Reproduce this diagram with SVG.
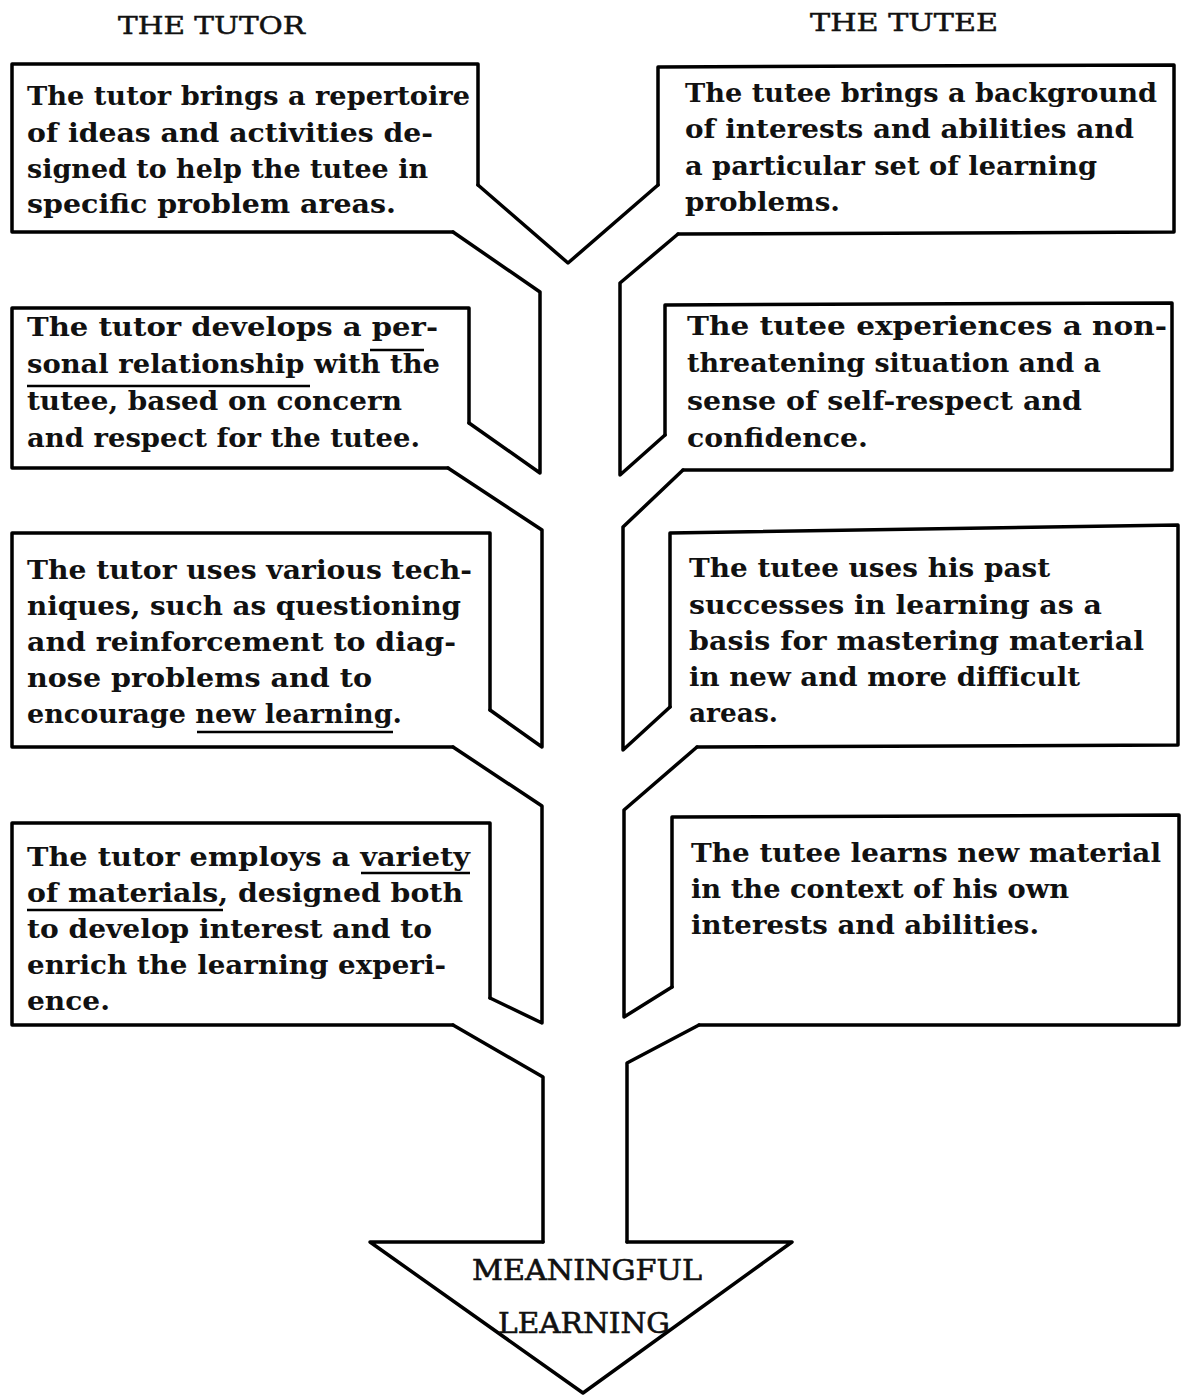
<svg xmlns="http://www.w3.org/2000/svg" width="1184" height="1396" viewBox="0 0 1184 1396">
<style>
.ol{fill:none;stroke:#000;stroke-width:3.5;stroke-linejoin:round;stroke-linecap:round}
.ul{stroke:#000;stroke-width:2.5}
.t{font-family:"DejaVu Serif","Liberation Serif",serif;font-size:25.5px;font-weight:bold;fill:#111}
.h{font-family:"DejaVu Serif","Liberation Serif",serif;font-size:25px;fill:#111;stroke:#111;stroke-width:0.5}
.m{font-family:"DejaVu Serif","Liberation Serif",serif;font-size:27px;fill:#111;stroke:#111;stroke-width:0.6}
</style>
<rect width="1184" height="1396" fill="#fff"/>
<g id="headers">
<text class="h" x="118" y="34" textLength="187" lengthAdjust="spacingAndGlyphs">THE TUTOR</text>
<text class="h" x="810" y="31" textLength="188" lengthAdjust="spacingAndGlyphs">THE TUTEE</text>
</g>
<g id="connectors">
<path class="ol" d="M478,185 L568,263 L658,185"/>
<path class="ol" d="M453,232 L540,292 V473 L469,423"/>
<path class="ol" d="M448,468 L542,530 V747 L490,710"/>
<path class="ol" d="M453,747 L542,806 V1023 L490,998"/>
<path class="ol" d="M453,1025 L543,1077 V1242"/>
<path class="ol" d="M678,234 L620,283 V475 L665,435"/>
<path class="ol" d="M683,470 L623,527 V750 L670,707"/>
<path class="ol" d="M697,747 L624,810 V1017 L672,987"/>
<path class="ol" d="M699,1025 L627,1063 V1242"/>
</g>
<g id="tutor1">
<path class="ol" d="M478,185 V64 H12 V232 H453"/>
<text class="t" x="27" y="105" textLength="443" lengthAdjust="spacingAndGlyphs">The tutor brings a repertoire</text>
<text class="t" x="27" y="142" textLength="406" lengthAdjust="spacingAndGlyphs">of ideas and activities de-</text>
<text class="t" x="27" y="178" textLength="401" lengthAdjust="spacingAndGlyphs">signed to help the tutee in</text>
<text class="t" x="27" y="213" textLength="369" lengthAdjust="spacingAndGlyphs">specific problem areas.</text>
</g>
<g id="tutor2">
<path class="ol" d="M469,423 V308 H12 V468 H448"/>
<text class="t" x="27" y="336" textLength="411" lengthAdjust="spacingAndGlyphs">The tutor develops a per-</text>
<text class="t" x="27" y="373" textLength="413" lengthAdjust="spacingAndGlyphs">sonal relationship with the</text>
<text class="t" x="27" y="410" textLength="375" lengthAdjust="spacingAndGlyphs">tutee, based on concern</text>
<text class="t" x="27" y="447" textLength="393" lengthAdjust="spacingAndGlyphs">and respect for the tutee.</text>
<line class="ul" x1="370" y1="350" x2="424" y2="350"/>
<line class="ul" x1="27" y1="386" x2="310" y2="386"/>
</g>
<g id="tutor3">
<path class="ol" d="M490,710 V533 H12 V747 H453"/>
<text class="t" x="27" y="579" textLength="445" lengthAdjust="spacingAndGlyphs">The tutor uses various tech-</text>
<text class="t" x="27" y="615" textLength="434" lengthAdjust="spacingAndGlyphs">niques, such as questioning</text>
<text class="t" x="27" y="651" textLength="429" lengthAdjust="spacingAndGlyphs">and reinforcement to diag-</text>
<text class="t" x="27" y="687" textLength="345" lengthAdjust="spacingAndGlyphs">nose problems and to</text>
<text class="t" x="27" y="723" textLength="375" lengthAdjust="spacingAndGlyphs">encourage new learning.</text>
<line class="ul" x1="197" y1="732" x2="393" y2="732"/>
</g>
<g id="tutor4">
<path class="ol" d="M490,998 V823 H12 V1025 H453"/>
<text class="t" x="27" y="866" textLength="443" lengthAdjust="spacingAndGlyphs">The tutor employs a variety</text>
<text class="t" x="27" y="902" textLength="436" lengthAdjust="spacingAndGlyphs">of materials, designed both</text>
<text class="t" x="27" y="938" textLength="405" lengthAdjust="spacingAndGlyphs">to develop interest and to</text>
<text class="t" x="27" y="974" textLength="419" lengthAdjust="spacingAndGlyphs">enrich the learning experi-</text>
<text class="t" x="27" y="1010" textLength="83" lengthAdjust="spacingAndGlyphs">ence.</text>
<line class="ul" x1="361" y1="873" x2="470" y2="873"/>
<line class="ul" x1="27" y1="910" x2="223" y2="910"/>
</g>
<g id="tutee1">
<path class="ol" d="M658,185 V67 L1174,65 V232 L678,234"/>
<text class="t" x="685" y="102" textLength="472" lengthAdjust="spacingAndGlyphs">The tutee brings a background</text>
<text class="t" x="685" y="138" textLength="449" lengthAdjust="spacingAndGlyphs">of interests and abilities and</text>
<text class="t" x="685" y="175" textLength="412" lengthAdjust="spacingAndGlyphs">a particular set of learning</text>
<text class="t" x="685" y="211" textLength="155" lengthAdjust="spacingAndGlyphs">problems.</text>
</g>
<g id="tutee2">
<path class="ol" d="M665,435 V305 L1172,303 V470 H683"/>
<text class="t" x="687" y="335" textLength="480" lengthAdjust="spacingAndGlyphs">The tutee experiences a non-</text>
<text class="t" x="687" y="372" textLength="414" lengthAdjust="spacingAndGlyphs">threatening situation and a</text>
<text class="t" x="687" y="410" textLength="395" lengthAdjust="spacingAndGlyphs">sense of self-respect and</text>
<text class="t" x="687" y="447" textLength="181" lengthAdjust="spacingAndGlyphs">confidence.</text>
</g>
<g id="tutee3">
<path class="ol" d="M670,707 V533 L1178,525 V745 L697,747"/>
<text class="t" x="689" y="577" textLength="361" lengthAdjust="spacingAndGlyphs">The tutee uses his past</text>
<text class="t" x="689" y="614" textLength="413" lengthAdjust="spacingAndGlyphs">successes in learning as a</text>
<text class="t" x="689" y="650" textLength="455" lengthAdjust="spacingAndGlyphs">basis for mastering material</text>
<text class="t" x="689" y="686" textLength="391" lengthAdjust="spacingAndGlyphs">in new and more difficult</text>
<text class="t" x="689" y="722" textLength="89" lengthAdjust="spacingAndGlyphs">areas.</text>
</g>
<g id="tutee4">
<path class="ol" d="M672,987 V817 L1179,815 V1025 H699"/>
<text class="t" x="691" y="862" textLength="470" lengthAdjust="spacingAndGlyphs">The tutee learns new material</text>
<text class="t" x="691" y="898" textLength="378" lengthAdjust="spacingAndGlyphs">in the context of his own</text>
<text class="t" x="691" y="934" textLength="348" lengthAdjust="spacingAndGlyphs">interests and abilities.</text>
</g>
<g id="outcome">
<path class="ol" d="M543,1242 H370 L583,1393 L792,1242 H627"/>
<text class="m" x="472" y="1280" textLength="230" lengthAdjust="spacingAndGlyphs">MEANINGFUL</text>
<text class="m" x="498" y="1333" textLength="172" lengthAdjust="spacingAndGlyphs">LEARNING</text>
</g>
</svg>
